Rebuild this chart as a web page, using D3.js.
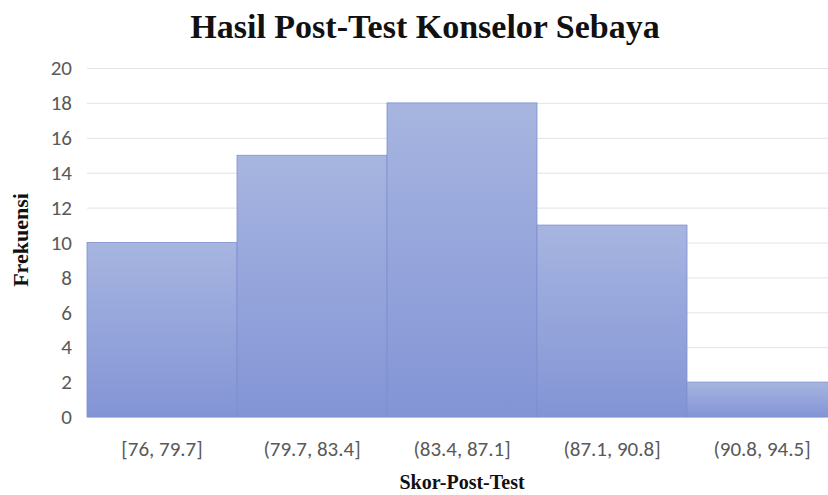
<!DOCTYPE html>
<html>
<head>
<meta charset="utf-8">
<script src="https://cdn.jsdelivr.net/npm/d3@7"></script>
<style>
  body { margin: 0; background: #fff; }
  svg { display: block; }
</style>
</head>
<body>
<div id="chart"></div>
<script>
// histogram bins and counts
var bins = ["[76, 79.7]", "(79.7, 83.4]", "(83.4, 87.1]", "(87.1, 90.8]", "(90.8, 94.5]"];
var freq = [10, 15, 18, 11, 2];
var yTicks = [0, 2, 4, 6, 8, 10, 12, 14, 16, 18, 20];

var width = 828, height = 495;
// plot edges (the last bar runs off the right edge like in the picture)
var plotLeft = 87, plotRight = 837, plotTop = 68, plotBottom = 417;

var svg = d3.select("#chart").append("svg")
    .attr("width", width)
    .attr("height", height);

var grad = svg.append("defs").append("linearGradient")
    .attr("id", "barFill")
    .attr("x1", 0).attr("y1", 0).attr("x2", 0).attr("y2", 1);
grad.append("stop").attr("offset", "0%").attr("stop-color", "#a7b5e0");
grad.append("stop").attr("offset", "100%").attr("stop-color", "#8394d6");

var x = d3.scaleBand().domain(bins).range([plotLeft, plotRight]).padding(0);
var y = d3.scaleLinear().domain([0, 20]).range([plotBottom, plotTop]);

// gridlines
svg.append("g")
  .selectAll("line")
  .data(yTicks)
  .enter()
  .append("line")
    .attr("x1", plotLeft)
    .attr("x2", width)
    .attr("y1", function(d){ return y(d) + 0.5; })
    .attr("y2", function(d){ return y(d) + 0.5; })
    .attr("stroke", "#e3e3e3")
    .attr("stroke-width", 1);

// bars
svg.append("g")
  .selectAll("rect")
  .data(freq)
  .enter()
  .append("rect")
    .attr("x", function(d, i){ return x(bins[i]); })
    .attr("y", function(d){ return y(d); })
    .attr("width", x.bandwidth())
    .attr("height", function(d){ return y(0) - y(d); })
    .attr("fill", "url(#barFill)")
    .attr("stroke", "#7f90cf")
    .attr("stroke-width", 0.8);

// y axis labels
var yAxis = d3.axisLeft(y).tickValues(yTicks).tickSize(0).tickPadding(0);
var gy = svg.append("g")
    .attr("transform", "translate(" + 72 + ",0)")
    .call(yAxis);
gy.select(".domain").remove();
gy.selectAll("text")
    .attr("fill", "#595959")
    .style("font-family", "Carlito, 'Liberation Sans', sans-serif")
    .style("font-size", "21px");

// x axis labels
var xAxis = d3.axisBottom(x).tickSize(0).tickPadding(0);
var gx = svg.append("g")
    .attr("transform", "translate(0," + 441 + ")")
    .call(xAxis);
gx.select(".domain").remove();
gx.selectAll("text")
    .attr("fill", "#595959")
    .style("font-family", "Carlito, 'Liberation Sans', sans-serif")
    .style("font-size", "21px");

// titles
svg.append("text")
    .attr("x", 425)
    .attr("y", 38)
    .attr("text-anchor", "middle")
    .style("font-family", "'Liberation Serif', 'Times New Roman', serif")
    .style("font-weight", "bold")
    .style("font-size", "34px")
    .attr("fill", "#111")
    .text("Hasil Post-Test Konselor Sebaya");

svg.append("text")
    .attr("x", (plotLeft + plotRight) / 2)
    .attr("y", 489)
    .attr("text-anchor", "middle")
    .style("font-family", "'Liberation Serif', 'Times New Roman', serif")
    .style("font-weight", "bold")
    .style("font-size", "20px")
    .attr("fill", "#111")
    .text("Skor-Post-Test");

svg.append("text")
    .attr("transform", "translate(28,240) rotate(-90)")
    .attr("text-anchor", "middle")
    .style("font-family", "'Liberation Serif', 'Times New Roman', serif")
    .style("font-weight", "bold")
    .style("font-size", "22px")
    .attr("fill", "#111")
    .text("Frekuensi");
</script>
</body>
</html>
